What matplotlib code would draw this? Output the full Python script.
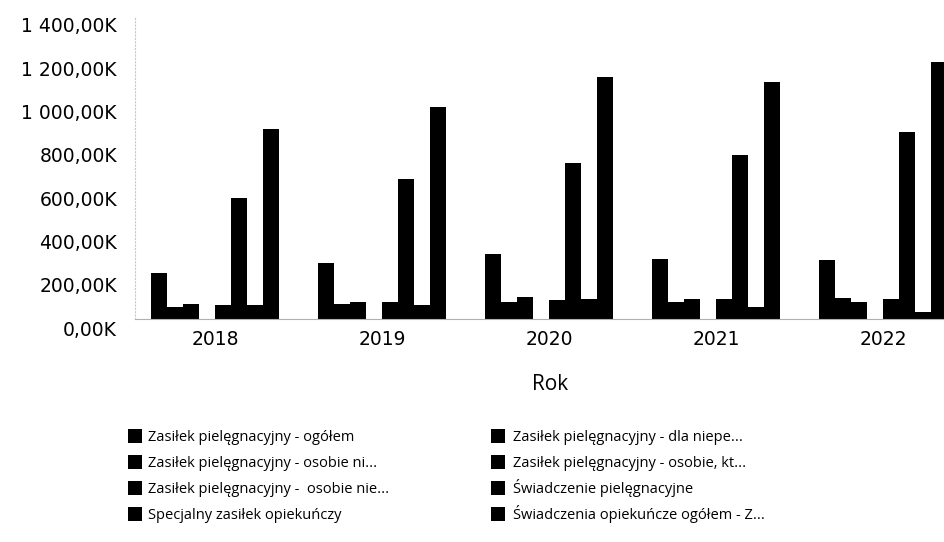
import numpy as np
import matplotlib
matplotlib.use("Agg")
import matplotlib.pyplot as plt
from matplotlib.ticker import FuncFormatter
from matplotlib.transforms import ScaledTranslation
from matplotlib.patches import Rectangle

plt.rcParams['font.family'] = ['Open Sans', 'DejaVu Sans']

# Data (thousands)

years = ["2018", "2019", "2020", "2021", "2022"]

labels = [
    "Zasiłek pielęgnacyjny - ogółem",
    "Zasiłek pielęgnacyjny - dla niepe...",
    "Zasiłek pielęgnacyjny - osobie ni...",
    "Zasiłek pielęgnacyjny - osobie, kt...",
    "Zasiłek pielęgnacyjny -  osobie nie...",
    "Świadczenie pielęgnacyjne",
    "Specjalny zasiłek opiekuńczy",
    "Świadczenia opiekuńcze ogółem - Z...",
]

zasilek_ogolem = [214, 260, 299, 277, 272]
zasilek_dla_niepe = [55, 69, 80, 80, 96]
zasilek_osobie_ni = [69, 80, 100, 91, 80]
zasilek_osobie_kt = [0, 0, 0, 0, 0]
zasilek_osobie_nie = [65, 77, 88, 91, 91]
swiadczenie_pieleg = [560, 645, 719, 756, 865]
specjalny_zasilek = [65, 65, 91, 54, 32]
swiadczenia_ogolem = [880, 980, 1116, 1095, 1188]

series = [
    zasilek_ogolem, zasilek_dla_niepe, zasilek_osobie_ni, zasilek_osobie_kt,
    zasilek_osobie_nie, swiadczenie_pieleg, specjalny_zasilek, swiadczenia_ogolem,
]

# Figure

W, H = 945, 542
fig = plt.figure(figsize=(W / 100, H / 100), dpi=100)
ax = fig.add_axes([135/W, 1 - 319/H, 810/W, 303/H])

x = np.arange(len(years))
w = 0.0958
n = len(series)
for j, vals in enumerate(series):
    ax.bar(x + (j - (n - 1) / 2) * w, vals, width=w, color="black", linewidth=0)

ax.set_xlim(-0.479, 4.371)
ax.set_ylim(0, 1400)
ax.set_yticks(np.arange(0, 1401, 200))
ax.yaxis.set_major_formatter(FuncFormatter(
    lambda v, pos: f"{v:,.2f}K".replace(",", " ").replace(".", ",")))
ax.set_xticks(x)
ax.set_xticklabels(years)

ax.tick_params(axis="y", length=0, pad=13)
ax.tick_params(axis="x", length=0, pad=8)
for lab in ax.get_yticklabels() + ax.get_xticklabels():
    lab.set_fontfamily("DejaVu Sans")
    lab.set_fontsize(13.5)
for lab in ax.get_yticklabels():
    lab.set_transform(lab.get_transform() + ScaledTranslation(0, -9/100, fig.dpi_scale_trans))

ax.set_xlabel("Rok", fontsize=15, labelpad=18)
ax.xaxis.label.set_x((550 - 135) / 810)

for s in ["top", "right"]:
    ax.spines[s].set_visible(False)
ax.spines["left"].set_color("#c8c8c8")
ax.spines["left"].set_linestyle((0, (1, 2)))
ax.spines["left"].set_linewidth(0.8)
ax.spines["bottom"].set_color("#b0b0b0")
ax.spines["bottom"].set_linewidth(0.8)

# Legend: two columns, filled row by row
marker_x = [128, 491]
text_x = [148, 513]
for k, label in enumerate(labels):
    row, col = divmod(k, 2)
    yc = 436 + 26 * row
    fig.patches.append(Rectangle((marker_x[col] / W, 1 - (yc + 7) / H), 14 / W, 14 / H,
                                 transform=fig.transFigure, facecolor="black",
                                 edgecolor="none"))
    fig.text(text_x[col] / W, 1 - (yc + 5) / H, label, fontsize=10.5,
             va="baseline", ha="left")

fig.savefig("out.png", dpi=100)
